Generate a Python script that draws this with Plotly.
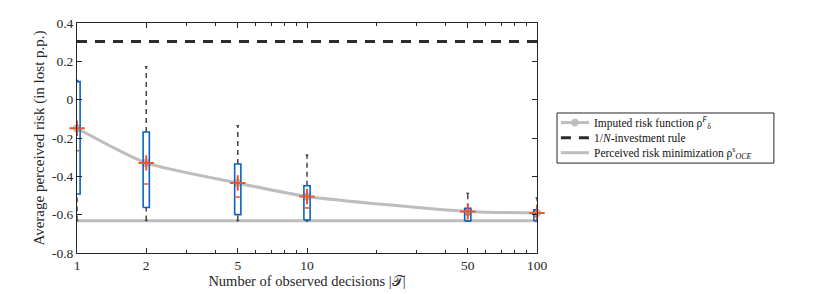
import plotly.graph_objects as go

# ---- data ----
decisions = [1, 2, 5, 10, 50, 100]
mean_risk = [-0.149, -0.330, -0.435, -0.505, -0.583, -0.591]      # imputed risk function / red +
medians = [-0.266, -0.440, -0.508, -0.565, -0.600, -0.610]
q1 = [-0.492, -0.563, -0.600, -0.628, -0.633, -0.633]
q3 = [0.094, -0.169, -0.336, -0.449, -0.567, -0.575]
whisk_hi = [0.100, 0.172, -0.136, -0.289, -0.489, -0.513]
whisk_lo = [-0.630, -0.630, -0.631, -0.633, -0.633, -0.633]
one_over_n = 0.303
oce_min = -0.632
xtick_vals = [1, 2, 5, 10, 50, 100]
xtick_text = ["1", "2", "5", "10", "50", "100"]
ytick_vals = [0.4, 0.2, 0, -0.2, -0.4, -0.6, -0.8]
ytick_text = ["0.4", "0.2", "0", "-0.2", "-0.4", "-0.6", "-0.8"]
minor_x = [3, 4, 6, 7, 8, 9, 20, 30, 40, 60, 70, 80, 90]
legend_names = [
    "Imputed risk function ρ<sup><i>F</i></sup><sub>δ</sub>",
    "1/<i>N</i>-investment rule",
    "Perceived risk minimization ρ<sup>s</sup><sub><i>OCE</i></sub>",
]

FONT = "Liberation Serif, Times New Roman, serif"
AX = "#262626"
BLUE = "#0b62c4"
RED = "#f2542a"
GRAY = "#bdbdbd"
DARK = "#2b2b2b"

BOX_HALF = 10 ** 0.0135
CAP_HALF = 10 ** 0.006
MED_HALF = 10 ** 0.009

fig = go.Figure()

# reference lines
fig.add_trace(go.Scatter(x=[decisions[0], decisions[-1]], y=[oce_min, oce_min], mode="lines",
                         line=dict(color=GRAY, width=3), name=legend_names[2],
                         showlegend=False, hoverinfo="skip"))
fig.add_trace(go.Scatter(x=[decisions[0], decisions[-1]], y=[one_over_n, one_over_n], mode="lines",
                         line=dict(color=DARK, width=3, dash="10px,8px"), name=legend_names[1],
                         showlegend=False, hoverinfo="skip"))
fig.add_trace(go.Scatter(x=decisions, y=mean_risk, mode="lines+markers",
                         line=dict(color=GRAY, width=3, shape="spline", smoothing=0.6),
                         marker=dict(color=GRAY, size=8, symbol="circle"),
                         name=legend_names[0], showlegend=False, cliponaxis=False, hoverinfo="skip"))

# boxes (MATLAB-style)
for i, xv in enumerate(decisions):
    fig.add_trace(go.Scatter(x=[xv, xv], y=[q3[i], whisk_hi[i]], mode="lines",
                             line=dict(color="#454545", width=1.5, dash="5px,4px"),
                             showlegend=False, hoverinfo="skip"))
    fig.add_trace(go.Scatter(x=[xv, xv], y=[whisk_lo[i], q1[i]], mode="lines",
                             line=dict(color="#454545", width=1.5, dash="5px,4px"),
                             showlegend=False, hoverinfo="skip"))
    for yv in (whisk_hi[i], whisk_lo[i]):
        fig.add_trace(go.Scatter(x=[xv / CAP_HALF, xv * CAP_HALF], y=[yv, yv], mode="lines",
                                 line=dict(color="#454545", width=1.5),
                                 showlegend=False, hoverinfo="skip"))
    fig.add_trace(go.Scatter(x=[xv / BOX_HALF, xv * BOX_HALF, xv * BOX_HALF, xv / BOX_HALF, xv / BOX_HALF],
                             y=[q1[i], q1[i], q3[i], q3[i], q1[i]], mode="lines",
                             line=dict(color=BLUE, width=1.6),
                             showlegend=False, hoverinfo="skip"))
    fig.add_trace(go.Scatter(x=[xv / MED_HALF, xv * MED_HALF], y=[medians[i], medians[i]], mode="lines",
                             line=dict(color=RED, width=1.6),
                             showlegend=False, hoverinfo="skip"))

# means
fig.add_trace(go.Scatter(x=decisions, y=mean_risk, mode="markers",
                         marker=dict(symbol="cross-thin", size=11, line=dict(color=RED, width=2)),
                         showlegend=False, cliponaxis=False, hoverinfo="skip"))

# ---- custom legend (MATLAB-like compact box) ----
LX0, LX1, LY0, LY1 = 1.0435, 1.515, 0.391, 0.6087
row_y = [0.567, 0.5013, 0.4361]
SX0, SX1, TX = 1.052, 1.113, 1.1196
fig.add_shape(type="rect", xref="paper", yref="paper", x0=LX0, x1=LX1, y0=LY0, y1=LY1,
              line=dict(color=AX, width=1), fillcolor="white", layer="above")
fig.add_shape(type="line", xref="paper", yref="paper", x0=SX0, x1=SX1, y0=row_y[0], y1=row_y[0],
              line=dict(color=GRAY, width=3), layer="above")
cx = (SX0 + SX1) / 2
fig.add_shape(type="circle", xref="paper", yref="paper", x0=cx - 0.0076, x1=cx + 0.0076,
              y0=row_y[0] - 0.0152, y1=row_y[0] + 0.0152,
              line=dict(color=GRAY, width=1), fillcolor=GRAY, layer="above")
fig.add_shape(type="line", xref="paper", yref="paper", x0=SX0, x1=SX1, y0=row_y[1], y1=row_y[1],
              line=dict(color=DARK, width=3, dash="10px,8px"), layer="above")
fig.add_shape(type="line", xref="paper", yref="paper", x0=SX0, x1=SX1, y0=row_y[2], y1=row_y[2],
              line=dict(color=GRAY, width=3), layer="above")
for name, yv in zip(legend_names, row_y):
    fig.add_annotation(text=name, xref="paper", yref="paper", x=TX, y=yv, xanchor="left",
                       yanchor="middle", showarrow=False,
                       font=dict(family=FONT, size=11.5, color="#111"))

fig.update_layout(
    width=830, height=294,
    margin=dict(l=77, r=293, t=23, b=41),
    paper_bgcolor="white", plot_bgcolor="white",
    font=dict(family=FONT, size=13, color=AX),
    showlegend=False,
)
fig.update_xaxes(type="log", range=[0, 2], tickvals=xtick_vals, ticktext=xtick_text, automargin=False,
                 ticks="inside", ticklen=5, tickcolor=AX, showline=True, linecolor=AX, linewidth=1,
                 mirror="ticks", showgrid=False, zeroline=False,
                 minor=dict(tickvals=minor_x, ticks="inside", ticklen=3, tickcolor=AX, showgrid=False),
                 title=dict(text="Number of observed decisions |𝒯|", font=dict(size=14.5), standoff=3),
                 tickfont=dict(size=13.5))
fig.update_yaxes(range=[-0.8, 0.4], tickvals=ytick_vals, ticktext=ytick_text, automargin=False,
                 ticks="inside", ticklen=5, tickcolor=AX, showline=True, linecolor=AX, linewidth=1,
                 mirror="ticks", showgrid=False, zeroline=False,
                 title=dict(text="Average perceived risk (in lost p.p.)", font=dict(size=15), standoff=3),
                 tickfont=dict(size=13.5))

fig.write_html("out.html", config={"displayModeBar": False},
               post_script="document.body.style.margin='0px';")
